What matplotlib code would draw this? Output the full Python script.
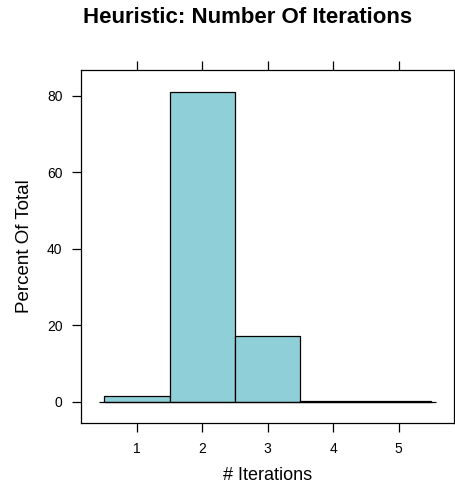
import matplotlib
matplotlib.use("Agg")
import matplotlib.pyplot as plt

plt.rcParams['font.family'] = ['Liberation Sans', 'DejaVu Sans']

# Iteration counts and percent of total
iterations = [1, 2, 3, 4, 5]
percent = [1.5, 81.0, 17.2, 0.3, 0.1]

fig = plt.figure(figsize=(4.56, 4.86), dpi=100)
ax = fig.add_axes([0.178, 0.130, 0.818, 0.726])

ax.bar(iterations, percent, width=1.0, color="#8ECFD8", edgecolor="black", linewidth=0.9)
ax.hlines(0, 0.43, 5.57, color="black", linewidth=0.9)

ax.set_xlim(0.15, 5.85)
ax.set_ylim(-5.5, 86.7)
ax.set_xticks(iterations)
ax.set_yticks([0, 20, 40, 60, 80])
ax.tick_params(axis="both", direction="out", length=6.5, width=0.9, labelsize=10, pad=7,
               top=True, right=True, labeltop=False, labelright=False)
for s in ax.spines.values():
    s.set_linewidth(0.9)

ax.set_xlabel("# Iterations", fontsize=13, labelpad=8)
ax.set_ylabel("Percent Of Total", fontsize=13.5, labelpad=10)
fig.text(0.542, 0.963, "Heuristic: Number Of Iterations", fontsize=16, fontweight="bold",
         ha="center", va="center")

fig.savefig("out.png", dpi=100)
